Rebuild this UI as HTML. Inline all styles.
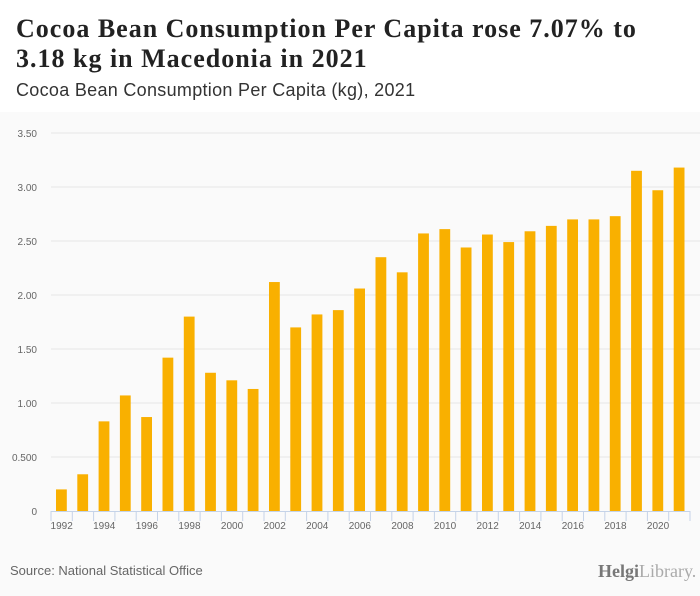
<!DOCTYPE html>
<html><head><meta charset="utf-8"><style>
body{margin:0;width:700px;height:596px;background:#fafafa;font-family:"Liberation Sans",sans-serif;overflow:hidden;position:relative}
#hdr{position:absolute;left:0;top:0;width:700px;height:112px;background:#fff}
#title{position:absolute;left:16px;top:14px;font-family:"Liberation Serif",serif;font-weight:bold;font-size:26px;letter-spacing:1px;line-height:30px;color:#222;margin:0}
#sub{position:absolute;left:16px;top:80px;font-size:18px;letter-spacing:0.3px;color:#333}
#src{position:absolute;left:10px;top:563px;font-size:13px;color:#666}
#logo{position:absolute;left:598px;top:561px;font-size:18px;color:#888;font-family:"Liberation Serif",serif}
</style></head><body>
<div id="hdr"></div>
<h1 id="title">Cocoa Bean Consumption Per Capita rose 7.07% to<br>3.18 kg in Macedonia in 2021</h1>
<div id="sub">Cocoa Bean Consumption Per Capita (kg), 2021</div>
<svg id="chart" width="700" height="596" style="position:absolute;left:0;top:0"></svg>
<div id="src">Source: National Statistical Office</div>
<div id="logo"><b style="color:#777">Helgi</b><span style="color:#aaa">Library.</span></div>
<script>
const years=[1992,1993,1994,1995,1996,1997,1998,1999,2000,2001,2002,2003,2004,2005,2006,2007,2008,2009,2010,2011,2012,2013,2014,2015,2016,2017,2018,2019,2020,2021];
const values=[0.20,0.34,0.83,1.07,0.87,1.42,1.80,1.28,1.21,1.13,2.12,1.70,1.82,1.86,2.06,2.35,2.21,2.57,2.61,2.44,2.56,2.49,2.59,2.64,2.70,2.70,2.73,3.15,2.97,3.18];
const yTicks=[0,0.5,1,1.5,2,2.5,3,3.5];
const yTickLabels=["0","0.500","1.00","1.50","2.00","2.50","3.00","3.50"];
const NS="http://www.w3.org/2000/svg",svg=document.getElementById('chart');
const x0=51,x1=690,y0=511,yMax=3.5,yTop=133;
const bw=(x1-x0)/years.length;
const y=v=>y0-(v/yMax)*(y0-yTop);
const xb=i=>x0+i*bw;
function mk(t,a){const e=document.createElementNS(NS,t);for(const k in a)e.setAttribute(k,a[k]);svg.appendChild(e);return e;}
yTicks.forEach((t,i)=>{
 if(t>0){const g=mk('line',{x1:x0,x2:700,y1:y(t),y2:y(t),stroke:'#e6e6e6','stroke-width':1});
 
 }
 const l=mk('text',{x:37,y:y(t)+4,'text-anchor':'end','font-size':10,fill:'#666','font-family':'Liberation Sans, sans-serif'});
 l.textContent=yTickLabels[i];
 
 
});
values.forEach((v,i)=>{
 const r=mk('rect',{x:xb(i)+5,y:y(v),width:bw-10.5,height:y0-y(v),fill:'#f9b000'});
 
 
});
const ax=mk('line',{x1:x0,x2:x1,y1:y0+0.5,y2:y0+0.5,stroke:'#c5d3e8'});


for(let i=0;i<=years.length;i++){
 const tk=mk('line',{x1:xb(i),x2:xb(i),y1:y0,y2:y0+10,stroke:'#c5d3e8'});
 
 
}
years.forEach((yr,i)=>{
 if(i%2)return;
 const l=mk('text',{x:xb(i)+bw/2,y:y0+18,'text-anchor':'middle','font-size':10,fill:'#666','font-family':'Liberation Sans, sans-serif'});
 l.textContent=yr;
 
 
});
</script>
</body></html>
